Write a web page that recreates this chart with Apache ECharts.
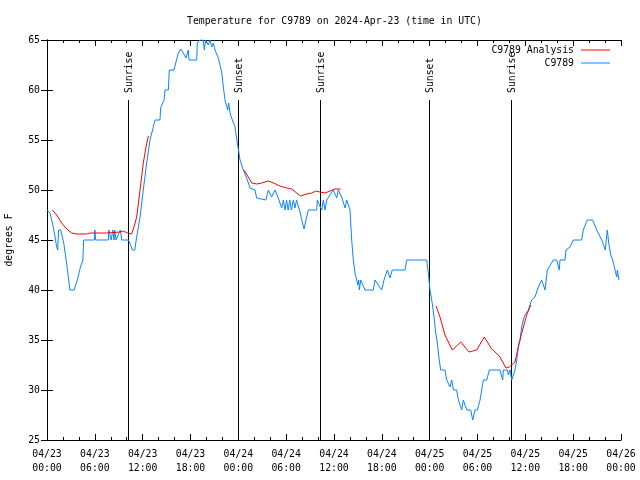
<!DOCTYPE html>
<html><head><meta charset="utf-8">
<script src="https://cdn.jsdelivr.net/npm/echarts@6/dist/echarts.min.js"></script>
<style>html,body{margin:0;padding:0;background:#fff}#c{width:640px;height:480px}</style>
</head><body><div id="c"></div>
<script>
// hours since 04/23 00:00 UTC, temperature (degrees F)
const obs = [[0,48],[0.38,47.7],[0.79,46.3],[1.22,44.3],[1.35,44],[1.45,46],[1.72,46],[2.1,44.7],[2.4,43],[2.6,41.8],[2.87,40],[3.41,40],[3.8,41],[4.2,42.3],[4.5,43],[4.6,45],[5.93,45],[6.0,46],[6.1,45],[7.7,45],[7.75,46],[7.95,46],[8.05,45],[8.25,46],[8.4,45],[8.5,46],[8.65,45],[9.2,46],[9.37,45],[10.2,45],[10.5,44.5],[10.7,44],[11.0,44],[11.25,45.3],[11.67,47.3],[12.08,50],[12.5,52.7],[12.92,55],[13.33,56.3],[13.55,57],[14.17,57],[14.26,58.2],[14.68,59],[14.8,60],[15.22,60],[15.34,62],[15.93,62],[16.18,62.8],[16.47,63.7],[16.77,64.1],[17.1,63.7],[17.44,63.2],[17.72,64],[17.81,63],[18.78,63],[18.85,64.7],[19.19,65],[19.61,65],[19.73,64],[19.9,65],[20.23,64.5],[20.45,65],[20.66,64.3],[20.86,64.7],[21.07,64],[21.49,63.2],[21.91,61.8],[22.12,60.3],[22.33,59],[22.66,58],[22.79,58.7],[22.96,57.7],[23.16,57.2],[23.58,56.3],[23.87,54.7],[24.08,53.7],[24.21,53],[24.62,52],[25.05,51.2],[25.46,50.2],[26.09,50],[26.3,49.2],[26.5,49],[27.47,49],[27.76,50],[28.18,49.3],[28.6,50],[29.01,49.2],[29.44,48.2],[29.65,49],[29.85,48],[30.05,49],[30.25,48],[30.45,49],[30.65,48],[30.9,49],[31.1,48.2],[31.3,49],[31.52,49],[31.74,47.8],[31.95,47],[32.24,46.1],[32.57,47.3],[32.78,48],[33.83,48],[33.91,49],[34.16,48.5],[34.46,48],[34.66,49],[34.87,48],[35.09,49],[35.29,49],[35.91,50],[36.34,49.2],[36.54,50],[36.97,49.3],[37.38,48.2],[37.59,49],[38.01,48],[38.22,45],[38.42,43],[38.64,41.7],[38.85,41],[39.0,40.5],[39.1,41],[39.18,40],[39.35,41],[39.6,41],[39.89,40],[40.93,40],[41.14,41],[41.56,40.5],[41.98,40],[42.27,41],[42.69,42],[43.03,41.2],[43.31,42],[44.91,42],[45.12,43],[47.63,43],[47.83,41.7],[48.04,40],[48.26,39],[48.55,37.3],[48.76,35.7],[48.95,34.8],[49.15,33.3],[49.38,32],[49.92,32],[50.14,31],[50.55,30.3],[50.77,31],[50.97,30],[51.39,30],[51.6,29],[52.02,28],[52.22,29],[52.65,28],[53.15,28],[53.4,27],[53.69,28],[53.98,28],[54.32,29],[54.53,30],[54.73,31],[55.16,31],[55.48,32],[56.82,32],[57.16,31],[57.24,32],[57.74,32],[57.87,31.5],[58.08,32],[58.29,31],[58.49,31.2],[58.7,32],[58.92,33],[59.12,34.3],[59.33,35],[59.55,36.3],[59.75,37],[59.96,37.5],[60.37,38],[60.8,39],[61.21,39.3],[61.63,40.3],[62.05,41],[62.47,40],[62.76,42],[63.51,43],[63.94,43],[64.26,42],[64.35,43],[64.98,43],[65.1,44],[65.6,44.3],[66.02,45],[67.07,45],[67.27,46],[67.77,47],[68.45,47],[68.95,46],[69.58,45],[70.03,44],[70.28,46],[70.46,44.7],[70.71,43.5],[70.96,43],[71.25,42],[71.46,41.3],[71.54,42],[71.75,41]];
const analysis1 = [[0.67,48],[1.22,47.5],[1.84,46.7],[2.47,46.1],[3.1,45.7],[3.73,45.6],[4.98,45.6],[5.39,45.7],[7.06,45.7],[7.49,45.7],[9.16,45.8],[9.57,45.9],[10.07,45.7],[10.62,45.6],[10.91,46.3],[11.25,47.3],[11.67,50],[12.08,52.7],[12.42,54.3],[12.71,55.4]];
const analysis2 = [[24.71,52],[25.25,51.3],[25.68,50.7],[26.3,50.6],[26.93,50.7],[27.76,50.9],[28.39,50.7],[29.23,50.4],[30.07,50.2],[30.7,50.1],[31.32,49.7],[31.82,49.4],[32.58,49.6],[33.2,49.7],[33.74,49.9],[34.24,49.8],[34.87,49.7],[35.5,49.9],[36.13,50.1],[36.84,50.1]];
const analysis3 = [[48.8,38.4],[49.3,37.3],[49.92,35.5],[50.84,34],[51.9,34.8],[52.94,33.8],[53.9,34],[54.85,35.3],[55.78,34.1],[56.74,33.4],[57.58,32.2],[57.99,32.3],[58.7,32.8],[59.12,34.3],[59.55,35.7],[60.17,37.5],[60.68,38.5]];
const sunTimes = [10.17, 23.96, 34.25, 47.9, 58.2];
const sunLabels = ['Sunrise', 'Sunset', 'Sunrise', 'Sunset', 'Sunrise'];
const sunLineTop = 59;
const xTickLabels = ['04/23\n00:00','04/23\n06:00','04/23\n12:00','04/23\n18:00','04/24\n00:00','04/24\n06:00','04/24\n12:00','04/24\n18:00','04/25\n00:00','04/25\n06:00','04/25\n12:00','04/25\n18:00','04/26\n00:00'];

const FONT = 'DejaVu Sans Mono';
const FS = 9.8;
const chart = echarts.init(document.getElementById('c'), null, {renderer: 'canvas'});
const analysisStyle = {type: 'line', name: 'C9789 Analysis', showSymbol: false, symbol: 'none',
  lineStyle: {color: '#ff0000', width: 1}, itemStyle: {color: '#ff0000'}, animation: false, z: 4};
const tickCommon = {show: true, inside: true, length: 6, lineStyle: {color: '#000', width: 1}};
const legendCommon = {right: 30, align: 'right', icon: 'rect', itemWidth: 29, itemHeight: 1, padding: 0,
  textStyle: {fontFamily: FONT, fontSize: FS, color: '#000', padding: [0, 2, 0, 0]}, selectedMode: false};
chart.setOption({
  animation: false,
  title: {text: 'Temperature for C9789 on 2024-Apr-23 (time in UTC)', left: 182, top: 11,
    textStyle: {fontFamily: FONT, fontSize: FS, fontWeight: 'normal', color: '#000'}},
  legend: [
    Object.assign({data: ['C9789 Analysis'], top: 45}, legendCommon),
    Object.assign({data: ['C9789'], top: 58}, legendCommon)
  ],
  grid: {left: 47, right: 19, top: 40, bottom: 40, show: false, containLabel: false, outerBoundsMode: 'none'},
  xAxis: [
    {type: 'value', min: 0, max: 72, interval: 6, position: 'bottom',
      axisLine: {show: true, lineStyle: {color: '#000', width: 1}},
      axisTick: tickCommon,
      minorTick: {show: true, splitNumber: 3, length: 3, lineStyle: {color: '#000', width: 1}},
      splitLine: {show: false}, minorSplitLine: {show: false},
      axisLabel: {margin: 7, color: '#000', fontFamily: FONT, fontSize: FS, lineHeight: 14,
        formatter: v => xTickLabels[Math.round(v / 6)]}},
    {type: 'value', min: 0, max: 72, interval: 6, position: 'top',
      axisLine: {show: true, lineStyle: {color: '#000', width: 1}},
      axisTick: tickCommon,
      minorTick: {show: true, splitNumber: 3, length: 3, lineStyle: {color: '#000', width: 1}},
      splitLine: {show: false}, axisLabel: {show: false}}
  ],
  yAxis: [
    {type: 'value', min: 25, max: 65, interval: 5, position: 'left',
      name: 'degrees F', nameLocation: 'middle', nameGap: 33,
      nameTextStyle: {fontFamily: FONT, fontSize: FS, color: '#000'},
      axisLine: {show: true, lineStyle: {color: '#000', width: 1}},
      axisTick: tickCommon, splitLine: {show: false},
      axisLabel: {margin: 7, color: '#000', fontFamily: FONT, fontSize: FS}},
    {type: 'value', min: 25, max: 65, interval: 5, position: 'right',
      axisLine: {show: true, lineStyle: {color: '#000', width: 1}},
      axisTick: tickCommon, splitLine: {show: false}, axisLabel: {show: false}}
  ],
  series: [
    {type: 'custom', name: 'sun', data: sunTimes.map((t, i) => [t, i]), z: 2,
      renderItem: function (params, api) {
        const h = api.value(0);
        const p0 = api.coord([h, 25]);
        const p1 = api.coord([h, sunLineTop]);
        const x = Math.round(p0[0]) + 0.5;
        return {type: 'group', children: [
          {type: 'line', shape: {x1: x, y1: p0[1], x2: x, y2: p1[1]}, style: {stroke: '#000', lineWidth: 1}},
          {type: 'text', x: x + 1, y: p1[1] - 7, rotation: Math.PI / 2,
            style: {text: sunLabels[api.value(1)], fill: '#000', font: FS + 'px "' + FONT + '"',
              textAlign: 'left', textVerticalAlign: 'middle'}}
        ]};
      }},
    Object.assign({data: analysis1}, analysisStyle),
    Object.assign({data: analysis2}, analysisStyle),
    Object.assign({data: analysis3}, analysisStyle),
    {type: 'line', name: 'C9789', data: obs, showSymbol: false, symbol: 'none',
      lineStyle: {color: '#0a84ff', width: 1}, itemStyle: {color: '#0a84ff'}, z: 3}
  ]
});
</script>
</body></html>
